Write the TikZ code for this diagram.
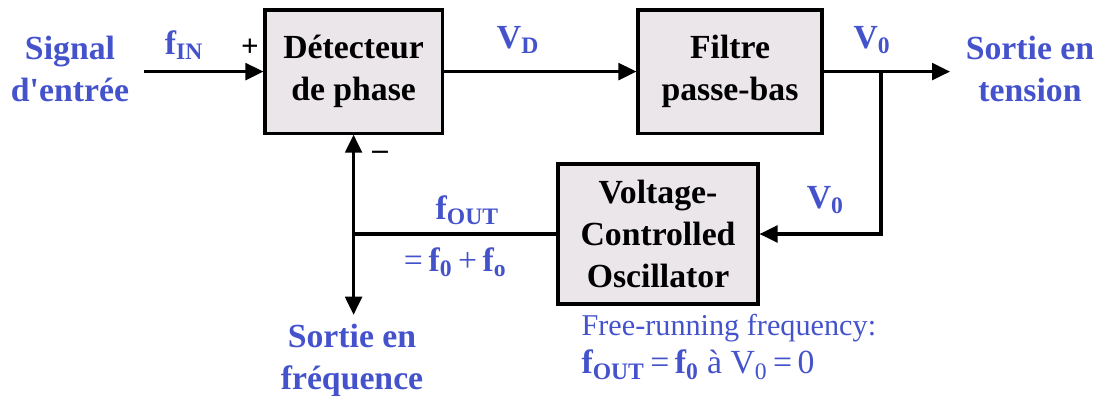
\documentclass[tikz,border=0pt]{standalone}
\usepackage{amsmath}
\usepackage{fontspec}
\setmainfont{Liberation Serif}
\usetikzlibrary{arrows.meta, positioning, calc}
\definecolor{cblue}{HTML}{4452CC}
\definecolor{cbox}{HTML}{EAE6EA}
\newcommand{\idx}[1]{$_{\text{#1}}$}
\tikzset{
  every picture/.style={line width=2.2pt},
  block/.style={draw=black, fill=cbox, align=center, inner sep=0pt, font=\fontsize{24}{30}\selectfont\bfseries},
  arrow/.style={-{Triangle[length=0.45cm, width=0.42cm]}},
  lbl/.style={text=cblue, align=center, font=\fontsize{24}{30}\selectfont\bfseries},
  sign/.style={font=\fontsize{22}{26}\selectfont\bfseries},
  note/.style={text=cblue, anchor=west, inner sep=0pt, font=\fontsize{21.5}{28}\selectfont},
}

\begin{document}
\begin{tikzpicture}
  \useasboundingbox (0,0) rectangle (27.475,-9.9);
  \node[block, minimum width=4.43cm, minimum height=3.08cm] (det) at (8.84,-1.79) {D\'etecteur\\de phase};
  \node[block, minimum width=4.6cm, minimum height=3.08cm] (filt) at (18.25,-1.79) {Filtre\\passe-bas};
  \node[block, minimum width=5.0cm, minimum height=3.5cm] (vco) at (16.45,-5.85) {Voltage-\\Controlled\\Oscillator};
  \coordinate (in) at (3.6,-1.79);
  \coordinate (tap) at (22.025,-1.79);
  \coordinate (out) at (23.75,-1.79);
  \coordinate (jn) at (det.south |- vco.west);
  \coordinate (fout) at ($(det.south)+(0,-4.5)$);
  % forward path
  \draw[arrow] (in) -- (det);
  \draw[arrow] (det) -- (filt);
  \draw[arrow] (filt.east) -- (out);
  % feedback
  \draw[arrow] (tap) |- (vco.east);
  \draw (vco.west) -- (jn);
  \draw[arrow] (jn) -- (det.south);
  \draw[arrow] (jn) -- (fout);
  % labels
  \node[lbl] (sin) at (1.75,-1.72) {Signal\\d\textquotesingle entr\'ee};
  \node[lbl] (fin) at (4.6,-1.12) {f\idx{IN}};
  \node[sign] (plus) at (6.25,-1.2) {+};
  \node[lbl] (vd) at (12.95,-1.0) {V\idx{D}};
  \node[lbl] (v0a) at (21.8,-1.0) {V\idx{0}};
  \node[lbl] (sout) at (25.75,-1.72) {Sortie en\\tension};
  \node[sign] (minus) at (9.5,-3.88) {--};
  \node[lbl] (fo) at (11.68,-5.25) {f\idx{OUT}};
  \node[lbl] (fsum) at (11.38,-6.55) {{\mdseries=}\,f\idx{0}\,{\mdseries+}\,f\idx{o}};
  \node[lbl] (v0b) at (20.63,-5.0) {V\idx{0}};
  \node[lbl] (sfreq) at (8.8,-9.0) {Sortie en\\fr\'equence};
  \node[note] (free) at (14.5,-8.2) {Free-running frequency:};
  \node[note, font=\fontsize{24}{28}\selectfont] (cond) at (14.5,-9.12) {\textbf{f\idx{OUT}}\,=\,\textbf{f\idx{0}} \`a V\idx{0}\,=\,0};
\end{tikzpicture}
\end{document}
